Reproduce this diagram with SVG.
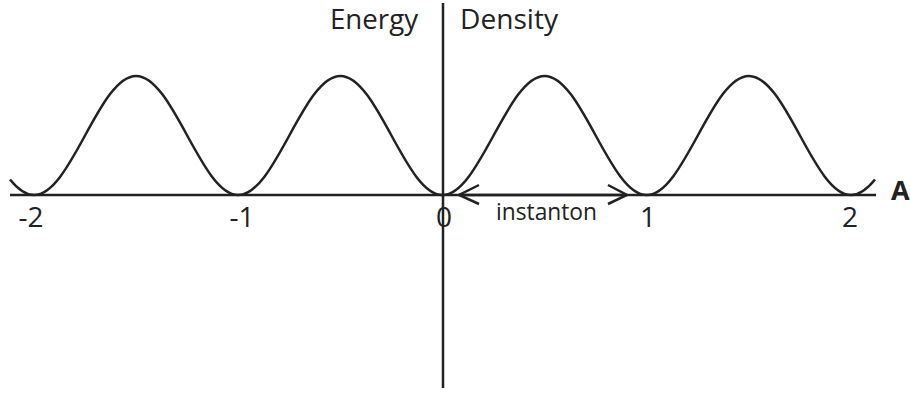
<svg xmlns="http://www.w3.org/2000/svg" width="910" height="393" viewBox="0 0 910 393">
<style>
.ln{stroke:#222;stroke-width:2.5;fill:none;stroke-linecap:butt}
.t{font-family:"Open Sans","Noto Sans","Liberation Sans",sans-serif;fill:#222;font-size:28px}
.b{font-family:"Open Sans","Liberation Sans",sans-serif;fill:#222;font-size:27px;font-weight:bold}
</style>
<rect width="910" height="393" fill="#fff"/>
<g id="axes">
<line class="ln" x1="10" y1="195" x2="876" y2="195"/>
<line class="ln" x1="443" y1="3" x2="443" y2="388"/>
</g>
<g id="curve">
<path class="ln" d="M10,179.5 C18,189.4 26,195 34,195 C71.2,195 98.9,76 136.1,76 S201.05,195 238.25,195 S303.2,76 340.4,76 S405.3,195 442.5,195 S507.4,76 544.6,76 S609.55,195 646.75,195 S711.7,76 748.9,76 S813.8,195 851,195 C859,195 867,189.4 875,179.5"/>
</g>
<g id="connectors">
<line class="ln" x1="459" y1="195" x2="627" y2="195"/>
<polyline class="ln" points="479,185 459,195 479,204"/>
<polyline class="ln" points="608,185 627,195 608,204"/>
</g>
<g id="labels">
<text class="t" x="330" y="29" style="font-size:27px" textLength="88" lengthAdjust="spacingAndGlyphs">Energy</text>
<text class="t" x="460" y="29" style="font-size:27px" textLength="98" lengthAdjust="spacingAndGlyphs">Density</text>
<text class="t" x="31" y="227" text-anchor="middle">-2</text>
<text class="t" x="242" y="227" text-anchor="middle">-1</text>
<text class="t" x="444" y="227" text-anchor="middle">0</text>
<text class="t" x="648" y="227" text-anchor="middle">1</text>
<text class="t" x="850" y="227" text-anchor="middle">2</text>
<text class="t" x="496" y="220" style="font-size:24px" textLength="101" lengthAdjust="spacingAndGlyphs">instanton</text>
<text class="b" x="891" y="200">A</text>
</g>
</svg>
